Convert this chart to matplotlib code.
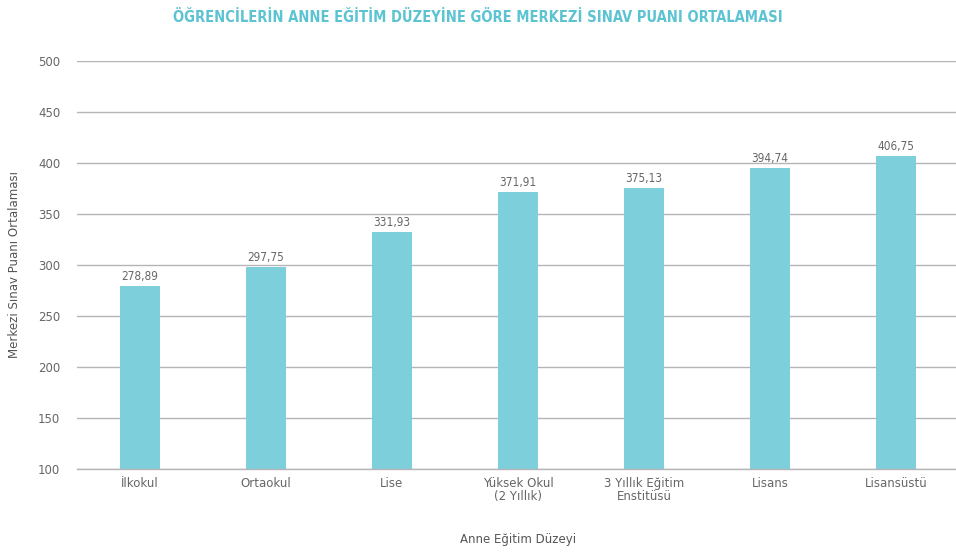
import matplotlib
matplotlib.use("Agg")
import matplotlib.pyplot as plt
import numpy as np

# anne egitim duzeyi -> MSP ortalamasi
kategoriler = ["İlkokul", "Ortaokul", "Lise", "Yüksek Okul\n(2 Yıllık)",
               "3 Yıllık Eğitim\nEnstitüsü", "Lisans", "Lisansüstü"]
puanlar = [278.89, 297.75, 331.93, 371.91, 375.13, 394.74, 406.75]
yticks = [100, 150, 200, 250, 300, 350, 400, 450, 500]

plt.rcParams['font.family'] = ['DejaVu Sans']

fig = plt.figure(figsize=(9.56, 5.56), dpi=100)
ax = fig.add_axes([0.0805, 0.157, 0.9226, 0.733])

x = np.arange(len(kategoriler))
bars = ax.bar(x, np.array(puanlar) - 100, bottom=100, width=0.32,
              color='#7dcfdc', zorder=3)

for xi, v in zip(x, puanlar):
    ax.text(xi, v + 3, ("%.2f" % v).replace('.', ','), ha='center', va='bottom',
            fontsize=8.5, color='#666666', fontstretch='condensed')

ax.set_ylim(100, 500)
ax.set_xlim(-0.5, 6.5)
ax.set_yticks(yticks)
ax.set_yticklabels([str(t) for t in yticks], fontsize=8.5, color='#666666')
ax.set_xticks(x)
ax.set_xticklabels(kategoriler, fontsize=8.5, color='#666666', linespacing=0.95)
ax.tick_params(axis='both', length=0)
ax.tick_params(axis='y', pad=12)
ax.tick_params(axis='x', pad=6)
ax.yaxis.grid(True, color='#b5b5b5', linewidth=1.0, zorder=0)
ax.axhline(100, color='#b5b5b5', linewidth=1.0, zorder=4, clip_on=False)
for s in ax.spines.values():
    s.set_visible(False)

ax.set_ylabel("Merkezi Sınav Puanı Ortalaması", fontsize=8.5, color='#555555', labelpad=12)
ax.set_xlabel("Anne Eğitim Düzeyi", fontsize=8.5, color='#555555', labelpad=22)

fig.text(0.5, 0.968, "ÖĞRENCİLERİN ANNE EĞİTİM DÜZEYİNE GÖRE MERKEZİ SINAV PUANI ORTALAMASI",
         ha='center', va='center', fontsize=10.5, color='#5cc3d3',
         fontstretch='condensed', fontweight='bold')

fig.savefig("out.png", dpi=100)
